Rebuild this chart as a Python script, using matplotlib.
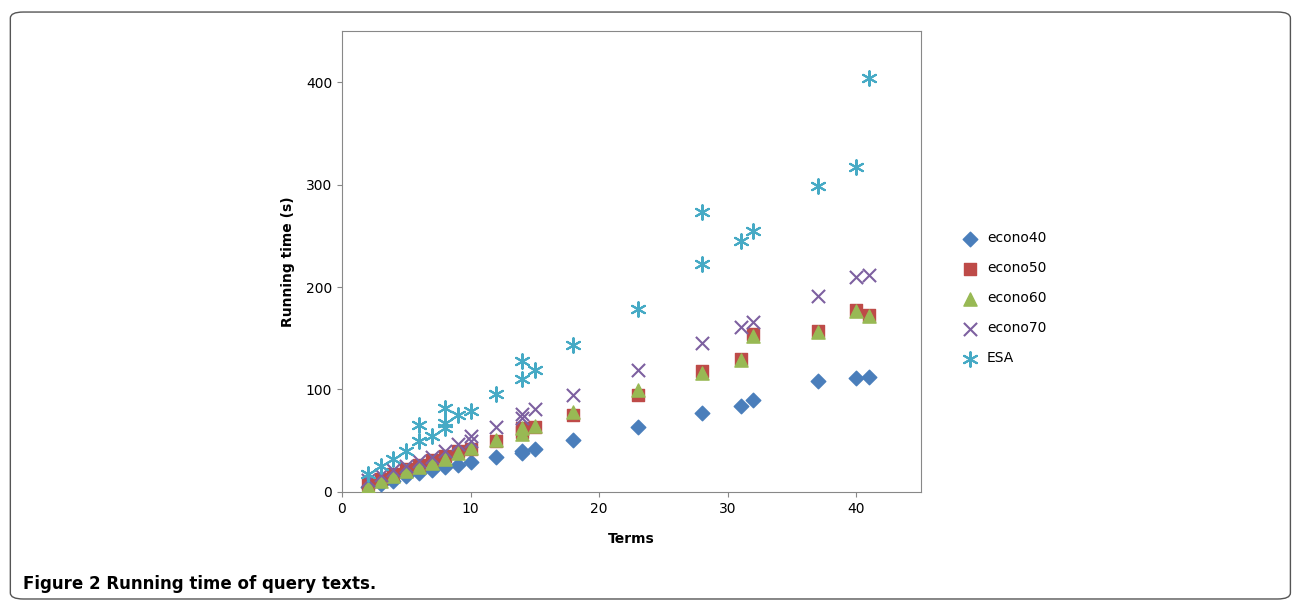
import matplotlib
matplotlib.use("Agg")
import matplotlib.pyplot as plt
from matplotlib.patches import FancyBboxPatch

e40_x = [2,3,4,5,6,7,8,9,10,12,14,14,15,18,23,28,31,32,37,40,41]
e40_y = [5,8,11,15,18,21,24,26,29,34,38,40,42,51,63,77,84,90,108,111,112]
e50_x = [2,3,4,5,6,7,8,9,10,12,14,14,15,18,23,28,31,32,37,40,41]
e50_y = [8,13,17,22,26,31,35,40,42,50,58,62,63,75,95,118,130,154,157,178,173]
e60_x = [2,3,4,5,6,7,8,9,10,12,14,14,15,18,23,28,31,32,37,40,41]
e60_y = [6,11,15,20,24,28,32,38,43,51,56,62,64,78,99,116,129,152,156,177,172]
e70_x = [2,3,4,5,6,7,8,9,10,10,12,14,14,15,18,23,28,31,32,37,40,41]
e70_y = [12,16,21,25,30,34,40,47,50,55,63,72,76,81,95,119,145,161,166,191,210,212]
esa_x = [2,3,4,5,6,6,7,8,8,8,9,10,12,14,14,15,18,23,28,28,31,32,37,40,41]
esa_y = [17,25,32,40,50,65,55,62,67,82,75,79,96,110,128,119,143,179,222,273,245,255,299,317,404]

fig = plt.figure(figsize=(12.93, 6.02), dpi=100)
fig.patches.append(FancyBboxPatch((0.008, 0.005), 0.99, 0.975, boxstyle="round,pad=0,rounding_size=0.01",
                                  transform=fig.transFigure, fill=False, edgecolor="#555555", lw=1))
ax = fig.add_axes([0.2645, 0.183, 0.4475, 0.7655])
ax.scatter(e40_x, e40_y, marker='D', color='#4A7EBB', s=55, label='econo40', zorder=3)
ax.scatter(e50_x, e50_y, marker='s', color='#BE4B48', s=80, label='econo50', zorder=3)
ax.scatter(e60_x, e60_y, marker='^', color='#98B954', s=90, label='econo60', zorder=4)
ax.scatter(e70_x, e70_y, marker='x', color='#7D60A0', s=90, linewidths=1.5, label='econo70', zorder=5)
ax.scatter(esa_x, esa_y, marker=(6, 2, 0), color='#46AAC5', s=110, linewidths=1.5, label='ESA', zorder=6)
ax.set_xlim(0, 45)
ax.set_ylim(0, 450)
ax.set_xticks([0,10,20,30,40])
ax.set_yticks([0,100,200,300,400])
for s in ax.spines.values():
    s.set_color('#888888')
ax.tick_params(labelsize=10, color='#888888')
ax.set_xlabel('Terms', fontsize=10, fontweight='bold', labelpad=12)
ax.set_ylabel('Running time (s)', fontsize=10, fontweight='bold', labelpad=8)
ax.legend(loc='center left', bbox_to_anchor=(1.04, 0.42), frameon=False, fontsize=10,
          handletextpad=0.2, labelspacing=1.15)
fig.text(0.018, 0.015, 'Figure 2 Running time of query texts.', fontsize=12, fontweight='bold', va='bottom')
fig.savefig('out.png', dpi=100)
